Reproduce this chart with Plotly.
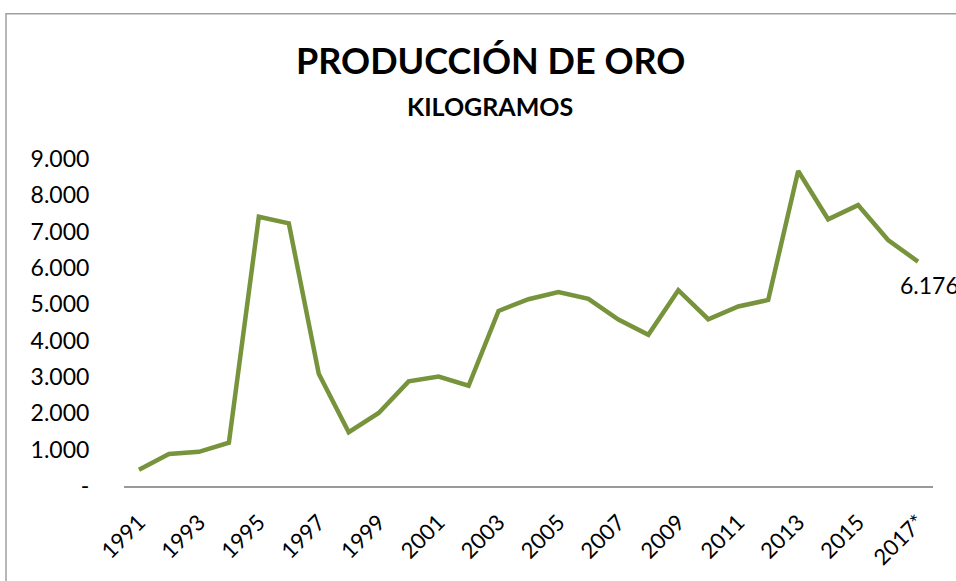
import plotly.graph_objects as go

years = ["1991", "1992", "1993", "1994", "1995", "1996", "1997", "1998", "1999",
         "2000", "2001", "2002", "2003", "2004", "2005", "2006", "2007", "2008",
         "2009", "2010", "2011", "2012", "2013", "2014", "2015", "2016", "2017*"]
produccion_kg = [450, 880, 940, 1190, 7410, 7230, 3090, 1480, 2010,
                 2880, 3010, 2760, 4820, 5140, 5340, 5150, 4580, 4160,
                 5390, 4590, 4940, 5120, 8670, 7340, 7730, 6770, 6176]
tick_years = ["1991", "1993", "1995", "1997", "1999", "2001", "2003", "2005",
              "2007", "2009", "2011", "2013", "2015", "2017*"]
y_tickvals = [0, 1000, 2000, 3000, 4000, 5000, 6000, 7000, 8000, 9000]
y_ticktext = ["-", "1.000", "2.000", "3.000", "4.000", "5.000", "6.000",
              "7.000", "8.000", "9.000"]
title_text = "PRODUCCIÓN DE ORO"
subtitle_text = "KILOGRAMOS"
last_label = "6.176"

W, H = 956, 581
L, R, T, B = 124, 23, 159.3, 94.5
pw = W - L - R
ph = H - T - B

def px_x(px):
    return (px - L) / pw

def px_y(py):
    return (H - B - py) / ph

FONT = "Lato"

fig = go.Figure()
fig.add_trace(go.Scatter(
    x=years, y=produccion_kg, mode="lines",
    line=dict(color="#77933C", width=4.5),
    hoverinfo="x+y", cliponaxis=False,
))

fig.add_annotation(x=years[-1], y=produccion_kg[-1], text=last_label,
                   showarrow=False, xanchor="left", yanchor="middle",
                   xshift=-20, yshift=-23,
                   font=dict(family=FONT, size=23, color="#000000"))

fig.add_annotation(xref="paper", yref="paper", x=px_x(490), y=px_y(60),
                   text="<b>" + title_text + "</b>", showarrow=False,
                   xanchor="center", yanchor="middle",
                   font=dict(family=FONT, size=36, color="#000000"))
fig.add_annotation(xref="paper", yref="paper", x=px_x(490), y=px_y(106),
                   text="<b>" + subtitle_text + "</b>", showarrow=False,
                   xanchor="center", yanchor="middle",
                   font=dict(family=FONT, size=25, color="#000000"))

fig.add_shape(type="rect", xref="paper", yref="paper",
              x0=px_x(6), y0=px_y(700), x1=px_x(1100), y1=px_y(14),
              line=dict(color="#A0A0A0", width=1.5), layer="below")

fig.update_layout(
    width=W, height=H,
    margin=dict(l=L, r=R, t=T, b=B, pad=0, autoexpand=False),
    paper_bgcolor="white", plot_bgcolor="white",
    showlegend=False,
    font=dict(family=FONT, size=23, color="#000000"),
    xaxis=dict(
        type="category", range=[-0.5, len(years) - 0.5],
        tickmode="array", tickvals=tick_years, ticktext=tick_years,
        tickangle=-45, showgrid=False, zeroline=False, automargin=False,
        showline=True, linecolor="#999999", linewidth=1.5,
        ticks="outside", ticklen=13, tickcolor="rgba(0,0,0,0)",
        tickfont=dict(family=FONT, size=22, color="#000000"),
    ),
    yaxis=dict(
        range=[0, 9000], tickmode="array", tickvals=y_tickvals,
        ticktext=y_ticktext, showgrid=False, zeroline=False, automargin=False,
        showline=False, ticks="outside", ticklen=29,
        tickcolor="rgba(0,0,0,0)",
        tickfont=dict(family=FONT, size=23, color="#000000"),
    ),
)

fig.write_html(
    "out.html",
    config={"displayModeBar": False},
    post_script="document.body.style.margin='0';document.body.style.overflow='hidden';",
)
